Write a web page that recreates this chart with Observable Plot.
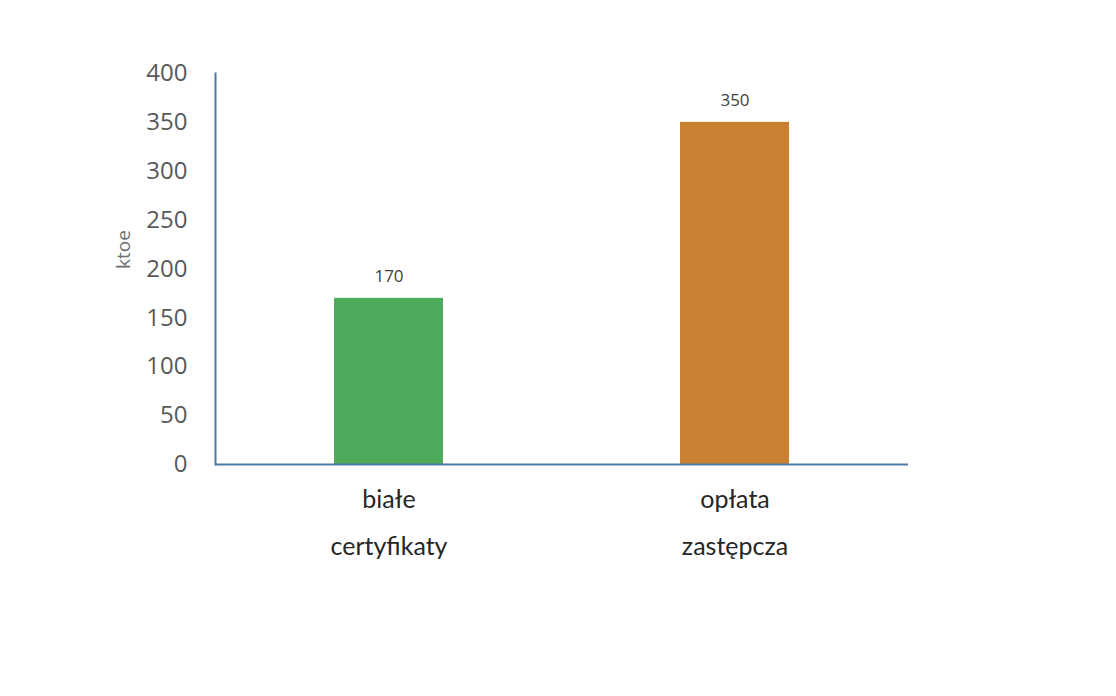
<!DOCTYPE html>
<html>
<head>
<meta charset="utf-8">
<script src="https://cdn.jsdelivr.net/npm/d3@7"></script>
<script src="https://cdn.jsdelivr.net/npm/@observablehq/plot@0.6"></script>
<style>
  html, body { margin: 0; padding: 0; background: #fff; }
  #chart svg { display: block; }
</style>
</head>
<body>
<div id="chart"></div>
<script>
const categories = ["białe\ncertyfikaty", "opłata\nzastępcza"];
const values = [170, 350];
const colors = ["#4eab5b", "#c98030"];
const yTicks = [0, 50, 100, 150, 200, 250, 300, 350, 400];
const yLabel = "ktoe";

const data = categories.map((c, i) => ({category: c, value: values[i], color: colors[i]}));

const chart = Plot.plot({
  width: 1116,
  height: 696,
  marginLeft: 215,
  marginRight: 208,
  marginTop: 73,
  marginBottom: 232,
  style: {background: "#fff"},
  x: {domain: categories, paddingInner: 0.685, paddingOuter: 0.3425, label: null},
  y: {domain: [0, 400], label: null},
  marks: [
    Plot.barY(data, {x: "category", y: "value", fill: "color"}),
    Plot.text(data, {x: "category", y: "value", text: d => String(d.value), dy: -22, fontSize: 17, fill: "#404040", fontFamily: "Open Sans"}),
    Plot.axisY({ticks: yTicks, tickSize: 0, tickPadding: 28, fontSize: 24, fill: "#595959", fontFamily: "Open Sans", label: null}),
    Plot.axisX({tickSize: 0, tickPadding: 10, fontSize: 25, fill: "#262626", fontFamily: "Lato", lineHeight: 1.88, label: null}),
    Plot.text([yLabel], {frameAnchor: "left", text: d => d, rotate: -90, dx: -92, fontSize: 19, fill: "#6f6f6f", fontFamily: "Open Sans"}),
    Plot.ruleY([0], {stroke: "#4f77a8", strokeWidth: 2}),
    Plot.frame({anchor: "left", stroke: "#4f77a8", strokeWidth: 2})
  ]
});
document.getElementById("chart").append(chart);
</script>
</body>
</html>
